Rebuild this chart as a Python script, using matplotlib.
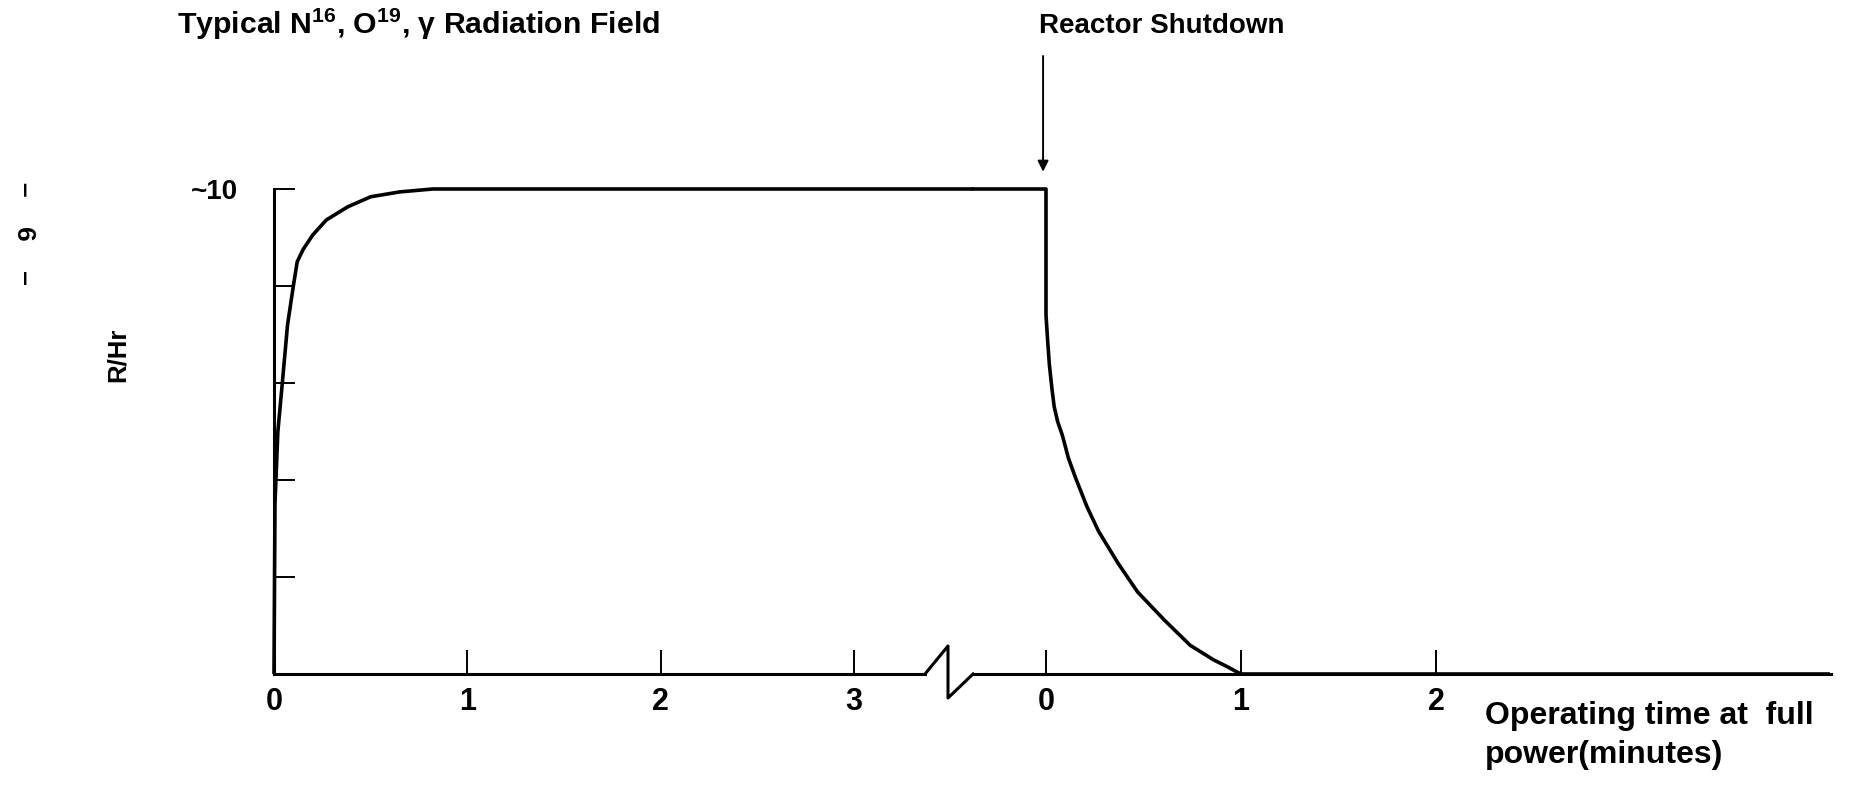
import numpy as np
import matplotlib
matplotlib.use("Agg")
import matplotlib.pyplot as plt
from matplotlib.lines import Line2D

plt.rcParams['font.family'] = ['Liberation Sans', 'DejaVu Sans']
plt.rcParams['font.weight'] = 'bold'
plt.rcParams['mathtext.fontset'] = 'custom'
plt.rcParams['mathtext.rm'] = 'Liberation Sans:bold'
plt.rcParams['mathtext.default'] = 'rm'

# build-up while operating at full power (minutes, R/Hr)
run_t = [0.0, 0.005, 0.02, 0.043, 0.07, 0.1, 0.12, 0.15, 0.2, 0.27, 0.38, 0.5, 0.65, 0.82, 3.62]
run_R = [0.0, 3.5, 5.0, 6.0, 7.2, 8.0, 8.5, 8.75, 9.05, 9.36, 9.63, 9.84, 9.94, 10.0, 10.0]

# decay after reactor shutdown (minutes, R/Hr)
shut_t = [-0.38, 0.0, 0.0, 0.008, 0.017, 0.03, 0.042, 0.06, 0.084, 0.115, 0.152, 0.21, 0.27, 0.37,
          0.47, 0.61, 0.74, 0.86, 0.93, 0.98, 1.0, 4.02]
shut_R = [10.0, 10.0, 7.4, 6.9, 6.39, 5.9, 5.51, 5.2, 4.92, 4.45, 4.04, 3.45, 2.94, 2.28,
          1.69, 1.10, 0.59, 0.29, 0.15, 0.04, 0.0, 0.0]

run_ticks = [0, 1, 2, 3]
shut_ticks = [0, 1, 2]
y_ticks = [2, 4, 6, 8, 10]
y_labels = ['', '', '', '', '~10']

W, H = 1855, 787
fig = plt.figure(figsize=(W / 100, H / 100), dpi=100)

ax1 = fig.add_axes([274 / W, 1 - 674 / H, (925 - 274) / W, 485 / H])
ax2 = fig.add_axes([973 / W, 1 - 674 / H, (1831 - 973) / W, 485 / H])

ax1.set_xlim(0, (925 - 274) / 193.4)
ax2.set_xlim((973 - 1046) / 195, (1831 - 1046) / 195)
for ax in (ax1, ax2):
    ax.set_ylim(0, 10)
    ax.spines['top'].set_visible(False)
    ax.spines['right'].set_visible(False)
    ax.spines['bottom'].set_linewidth(2.2)
    ax.tick_params(axis='x', direction='in', length=17, width=1.4, pad=9, labelsize=22)
ax2.spines['left'].set_visible(False)
ax1.spines['left'].set_linewidth(2.2)

ax1.plot(run_t, run_R, color='black', lw=2.6, clip_on=False, solid_capstyle='butt')
ax2.plot(shut_t, shut_R, color='black', lw=2.6, clip_on=False, solid_capstyle='butt')

ax1.set_xticks(run_ticks)
ax1.set_xticklabels([str(v) for v in run_ticks])
ax2.set_xticks(shut_ticks)
ax2.set_xticklabels([str(v) for v in shut_ticks])

ax1.set_yticks(y_ticks)
ax1.set_yticklabels(y_labels)
ax1.tick_params(axis='y', direction='in', length=15, width=1.4, pad=26, labelsize=20)
ax2.tick_params(axis='y', left=False, labelleft=False)

# axis break zig-zag
zx = np.array([925, 948, 948, 973]) / W
zy = 1 - np.array([674, 646, 698, 674]) / H
fig.add_artist(Line2D(zx, zy, color='black', lw=2.2, transform=fig.transFigure))

# shutdown arrow
ax2.annotate('', xy=(-0.015, 10.3), xytext=(-0.015, 12.8),
             arrowprops=dict(arrowstyle='-|>', lw=1.4, color='black', mutation_scale=16),
             annotation_clip=False)

fig.text(177 / W, 1 - 24 / H, 'Typical N$^{16}$, O$^{19}$, \u03b3 Radiation Field',
         ha='left', va='center', fontsize=21.8)
fig.text(1039 / W, 1 - 26 / H, 'Reactor Shutdown', ha='left', va='center', fontsize=20)
fig.text(118 / W, 1 - 355 / H, 'R/Hr', rotation=90, ha='center', va='center', fontsize=18.5)
fig.text(1485 / W, 1 - 716 / H, 'Operating time at  full', ha='left', va='center', fontsize=23)
fig.text(1485 / W, 1 - 755 / H, 'power(minutes)', ha='left', va='center', fontsize=23)
fig.text(24 / W, 1 - 233 / H, '\u2013    6    \u2013', rotation=-90, ha='center', va='center', fontsize=19)

fig.savefig('out.png', dpi=100)
